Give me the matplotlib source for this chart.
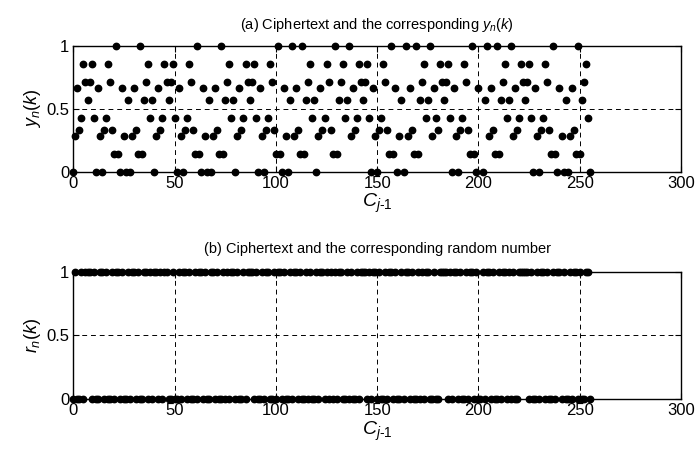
import numpy as np
import matplotlib.pyplot as plt

plt.rcParams['font.family'] = ['Liberation Sans', 'DejaVu Sans']
plt.rcParams['mathtext.fontset'] = 'custom'
plt.rcParams['mathtext.rm'] = 'Liberation Sans'
plt.rcParams['mathtext.it'] = 'Liberation Sans:italic'

# ciphertext values C_{j-1}
cipher = np.arange(256)

# y_n(k), one value per ciphertext (nan = not readable)
y_n = [
    0, .286, .667, .333, .429, .857, .714, .571, .714, .857, .429, 0, .667, .286, 0, .333,
    .429, .857, .714, .333, .143, 1, .143, 0, .667, .286, 0, .571, 0, .286, .667, .333,
    .143, 1, .143, .571, .714, .857, .429, .571, 0, .286, .667, .333, .429, .857, .714, .571,
    .714, .857, .429, 0, .667, .286, 0, .333, .429, .857, .714, .333, .143, 1, .143, 0,
    .667, .286, 0, .571, 0, .286, .667, .333, .143, 1, .143, .571, .714, .857, .429, .571,
    0, .286, .667, .333, .429, .857, .714, .571, .714, .857, .429, 0, .667, .286, 0, .333,
    .429, .857, .714, .333, .143, 1, .143, 0, .667, .286, 0, .571, 1, .286, .667, .333,
    .143, 1, .143, .571, .714, .857, .429, .571, 0, .286, .667, .333, .429, .857, .714, .333,
    .143, 1, .143, .571, .714, .857, .429, .571, 1, .286, .667, .333, .429, .857, .714, .571,
    .714, .857, .429, 0, .667, .286, 0, .333, .429, .857, .714, .333, .143, 1, .143, .667,
    0, .286, .571, 0, 1, .286, .667, .333, .143, 1, .143, .571, .714, .857, .429, .571,
    1, .286, .667, .429, .333, .857, .714, .571, .714, .857, .429, 0, .667, .286, 0, .333,
    .429, .857, .714, .333, .143, 1, .143, 0, .667, np.nan, 0, .571, 1, .286, .667, .333,
    .143, 1, .143, .571, .714, .857, .429, .571, 1, .286, .667, .333, .429, .857, .714, .571,
    .714, .857, .429, 0, .667, .286, 0, .333, .429, .857, .714, .333, .143, 1, .143, 0,
    .667, .286, 0, .571, 0, .286, .667, .333, .143, 1, .143, .571, .714, .857, .429, 0,
]

# r_n(k)
r_bits = (
    "01001011101001101001011010010110"
    "10011010110101100100101101001011"
    "01001101001010110100101110100101"
    "10010110100101101001010010110101"
    "01011001010010111010110100101101"
    "00101101001010110010011110101101"
    "00101101001011010010110101001111"
    "10100101101001011010010110100110"
)
r_n = [int(b) for b in r_bits]

fig = plt.figure(figsize=(6.99, 4.61), dpi=100)
ax1 = fig.add_axes([0.1049, 0.6275, 0.8694, 0.2733])
ax2 = fig.add_axes([0.1049, 0.1345, 0.8694, 0.2755])


def style(ax, ylab, title, pad):
    ax.set_xlim(0, 300)
    ax.set_ylim(0, 1)
    ax.set_xticks(range(0, 301, 50))
    ax.set_yticks([0, 0.5, 1])
    ax.set_yticklabels(['0', '0.5', '1'])
    ax.grid(True, color='k', linestyle=(0, (5, 4)), linewidth=0.7)
    ax.tick_params(direction='in', top=True, right=True, labelsize=12, length=4, pad=3)
    for s in ax.spines.values():
        s.set_linewidth(1.0)
    ax.set_xlabel(r'$C_{j\text{-}1}$', fontsize=14, labelpad=1)
    ax.set_ylabel(ylab, fontsize=13, labelpad=2)
    ax.set_title(title, fontsize=10.5, pad=pad)


ax1.plot(cipher, y_n, 'o', color='k', ms=4.6, clip_on=False, zorder=3)
style(ax1, r'$y_n(k)$', r'(a) Ciphertext and the corresponding $y_n(k)$', 12)

ax2.plot(cipher, r_n, 'o', color='k', ms=4.6, clip_on=False, zorder=3)
style(ax2, r'$r_n(k)$', '(b) Ciphertext and the corresponding random number', 14)

fig.savefig('out.png', dpi=100)
